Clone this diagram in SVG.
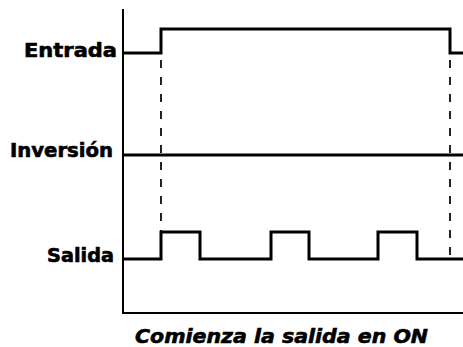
<svg xmlns="http://www.w3.org/2000/svg" width="463" height="347" viewBox="0 0 463 347">
<style>
.lbl{font-family:"DejaVu Sans","Liberation Sans",sans-serif;font-weight:bold;font-size:19px;fill:#000;stroke:#000;stroke-width:0.6}
.sig{fill:none;stroke:#000;stroke-width:3;stroke-linejoin:miter}
.axis{fill:none;stroke:#000;stroke-width:2}
.dash{fill:none;stroke:#222;stroke-width:2;stroke-dasharray:8,9}
</style>
<rect width="463" height="347" fill="#fff"/>
<g id="axes">
<path class="axis" d="M123,9 V313 H463"/>
</g>
<g id="connectors">
<line class="dash" x1="161" y1="60" x2="161" y2="232"/>
<line class="dash" x1="450" y1="60" x2="450" y2="259"/>
</g>
<g id="entrada">
<text class="lbl" x="117" y="57" text-anchor="end" textLength="93" lengthAdjust="spacingAndGlyphs">Entrada</text>
<path class="sig" d="M123,53 H161 V29 H450 V53 H463"/>
</g>
<g id="inversion">
<text class="lbl" x="113" y="157" text-anchor="end" textLength="103" lengthAdjust="spacingAndGlyphs">Inversión</text>
<path class="sig" d="M123,155 H463"/>
</g>
<g id="salida">
<text class="lbl" x="114" y="262" text-anchor="end" textLength="67" lengthAdjust="spacingAndGlyphs">Salida</text>
<path class="sig" d="M123,259 H161 V232 H200 V259 H271 V232 H309 V259 H378 V232 H417 V259 H463"/>
</g>
<g id="caption">
<text class="lbl" x="135" y="343" font-style="italic" textLength="293" lengthAdjust="spacingAndGlyphs">Comienza la salida en ON</text>
</g>
</svg>
